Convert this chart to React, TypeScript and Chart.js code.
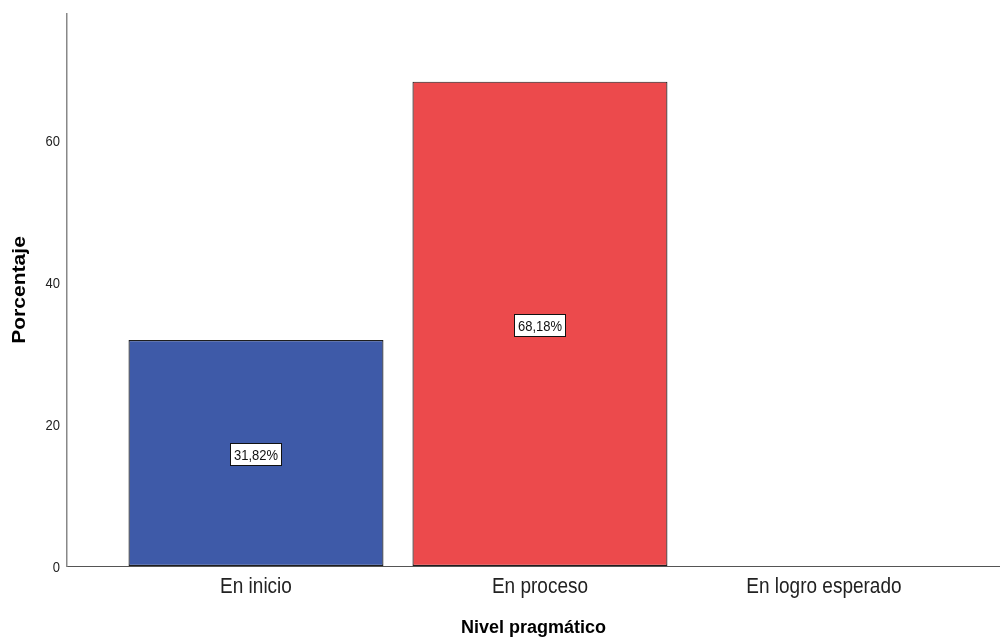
import React, { useEffect, useRef } from "react";
import { Chart, registerables } from "chart.js";

Chart.register(...registerables);

const categories = ["En inicio", "En proceso", "En logro esperado"];
const percentages = [31.82, 68.18, 0];
const barColors = ["#3E5AA8", "#EC4A4C", "#2EB848"];
const yTicks = [0, 20, 40, 60];
const yTitle = "Porcentaje";
const xTitle = "Nivel pragmático";

const FONT = "'Liberation Sans', Arial, sans-serif";
const STRETCH = 1.17;

function stretchedText(ctx: any, text: string, x: number, y: number, align: string) {
  ctx.save();
  ctx.translate(x, y);
  ctx.scale(1, STRETCH);
  ctx.textAlign = align;
  ctx.textBaseline = "alphabetic";
  ctx.fillText(text, 0, 0);
  ctx.restore();
}

const textPlugin = {
  id: "customText",
  afterDraw(chart: any) {
    const ctx = chart.ctx;
    const xs = chart.scales.x;
    const ys = chart.scales.y;
    const area = chart.chartArea;
    ctx.save();
    // y tick labels
    ctx.fillStyle = "#222222";
    ctx.font = `13px ${FONT}`;
    yTicks.forEach((v) => {
      stretchedText(ctx, String(v), area.left - 7, ys.getPixelForValue(v) + 6, "right");
    });
    // x tick labels
    ctx.font = `19px ${FONT}`;
    categories.forEach((c, i) => {
      stretchedText(ctx, c, xs.getPixelForValue(i), area.bottom + 27, "center");
    });
    // y title
    ctx.fillStyle = "#000000";
    ctx.font = `bold 18px ${FONT}`;
    ctx.save();
    ctx.translate(25, (area.top + area.bottom) / 2);
    ctx.rotate(-Math.PI / 2);
    ctx.scale(STRETCH, 1);
    ctx.textAlign = "center";
    ctx.textBaseline = "alphabetic";
    ctx.fillText(yTitle, 0, 0);
    ctx.restore();
    // value boxes
    const meta = chart.getDatasetMeta(0);
    ctx.font = `13px ${FONT}`;
    meta.data.forEach((el: any, i: number) => {
      const v = percentages[i];
      if (!v) return;
      const text = v.toFixed(2).replace(".", ",") + "%";
      const cx = el.x;
      const cy = (el.y + el.base) / 2 + 1.5;
      const w = Math.round(ctx.measureText(text).width + 7);
      const h = 22;
      const bx = Math.round(cx - w / 2) + 0.5;
      const by = Math.round(cy - h / 2) + 0.5;
      ctx.fillStyle = "#ffffff";
      ctx.fillRect(bx, by, w, h);
      ctx.strokeStyle = "#111111";
      ctx.lineWidth = 1;
      ctx.strokeRect(bx, by, w, h);
      ctx.fillStyle = "#111111";
      stretchedText(ctx, text, cx, cy + 6, "center");
    });
    ctx.restore();
  },
};

export default function App() {
  const ref = useRef<HTMLCanvasElement | null>(null);
  useEffect(() => {
    if (!ref.current) return;
    const chart = new Chart(ref.current, {
      type: "bar",
      data: {
        datasets: [
          {
            data: percentages.map((y, i) => ({ x: i, y })),
            backgroundColor: barColors,
            borderColor: "#1e1e1e",
            borderWidth: 1.2,
            borderSkipped: false,
            categoryPercentage: 1,
            barPercentage: 0.898,
          },
        ],
      },
      options: {
        responsive: false,
        animation: false,
        layout: { padding: { top: 14, right: 0, left: 0, bottom: 0 } },
        plugins: { legend: { display: false }, tooltip: { enabled: false } },
        scales: {
          x: {
            type: "linear",
            offset: false,
            min: -0.6655,
            max: 2.62,
            grid: { display: false, drawTicks: false },
            border: { display: true, color: "#555555", width: 1 },
            afterBuildTicks: (scale: any) => {
              scale.ticks = categories.map((_, i) => ({ value: i }));
            },
            afterFit: (scale: any) => {
              scale.height = 71;
            },
            ticks: { display: false },
            title: {
              display: true,
              text: xTitle,
              color: "#000000",
              font: { family: FONT, size: 18, weight: "bold", lineHeight: 1.0 },
              padding: { top: 0, bottom: 0 },
            },
          },
          y: {
            min: 0,
            max: 77.7,
            grid: { display: false, drawTicks: false },
            border: { display: true, color: "#888888", width: 1.5 },
            afterBuildTicks: (scale: any) => {
              scale.ticks = yTicks.map((v) => ({ value: v }));
            },
            afterFit: (scale: any) => {
              scale.width = 67;
            },
            ticks: { display: false },
            title: { display: false },
          },
        },
      },
      plugins: [textPlugin],
    } as any);
    return () => chart.destroy();
  }, []);
  return (
    <div style={{ position: "fixed", left: 0, top: 0, width: 1000, height: 637, background: "#fff" }}>
      <canvas ref={ref} width={1000} height={637} />
    </div>
  );
}
